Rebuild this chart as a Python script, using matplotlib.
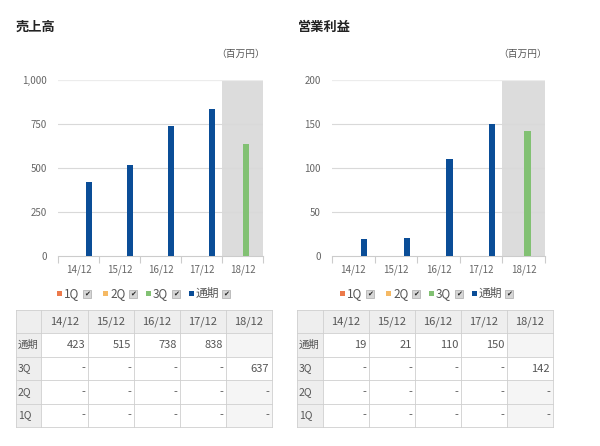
import matplotlib
matplotlib.use("Agg")
import matplotlib.pyplot as plt
from matplotlib.patches import Rectangle

plt.rcParams['font.family'] = ['Noto Sans CJK JP', 'DejaVu Sans']

# data
years = ['14/12', '15/12', '16/12', '17/12', '18/12']
series = ['1Q', '2Q', '3Q', '通期']
colors = ['#ec7a4b', '#f5b964', '#82c173', '#0a4d97']

sales_1q = [None, None, None, None, None]
sales_2q = [None, None, None, None, None]
sales_3q = [None, None, None, None, 637]
sales_full = [423, 515, 738, 838, None]

profit_1q = [None, None, None, None, None]
profit_2q = [None, None, None, None, None]
profit_3q = [None, None, None, None, 142]
profit_full = [19, 21, 110, 150, None]

W, H = 600, 446
fig = plt.figure(figsize=(W / 100, H / 100), dpi=100)

# overlay in pixel coords for titles, legends, tables
ov = fig.add_axes([0, 0, 1, 1])
ov.set_xlim(0, W)
ov.set_ylim(H, 0)
ov.axis('off')


def px_axes(x0, y0, x1, y1):
    return fig.add_axes([x0 / W, 1 - y1 / H, (x1 - x0) / W, (y1 - y0) / H])


def draw_chart(x0, x1, title, tx, lx, q1, q2, q3, full, ymax, ystep, fmt):
    ax = px_axes(x0, 80, x1, 256)
    ax.set_zorder(2)
    ax.patch.set_alpha(0)
    ax.axvspan(3.5, 4.5, color='#dcdcdc', zorder=0, lw=0)
    for v in range(ystep, ymax + 1, ystep):
        ax.axhline(v, color='#d9d9d9' if v < ymax else '#ececec', lw=0.8 if v < ymax else 1.6, zorder=1)
    off = 0.17
    for i, (vals, c) in enumerate(zip([q1, q2, q3, full], colors)):
        xs = [k + (i - 1.5) * off for k, v in enumerate(vals) if v is not None]
        hs = [v for v in vals if v is not None]
        ax.bar(xs, hs, width=0.15, color=c, zorder=3)
    ax.set_xlim(-0.5, 4.5)
    ax.set_ylim(0, ymax)
    ax.set_yticks(range(0, ymax + 1, ystep))
    ax.set_yticklabels([fmt.format(v) for v in range(0, ymax + 1, ystep)])
    ax.set_xticks(range(len(years)))
    ax.set_xticklabels(years)
    ax.set_xticks([k - 0.5 for k in range(len(years) + 1)], minor=True)
    ax.tick_params(axis='y', length=0, pad=8, labelsize=7, labelcolor='#666666')
    ax.tick_params(axis='x', which='major', length=0, pad=6, labelsize=7, labelcolor='#666666')
    ax.tick_params(axis='x', which='minor', length=5, color='#cccccc', width=0.8)
    for s in ['top', 'right', 'left']:
        ax.spines[s].set_visible(False)
    ax.spines['bottom'].set_color('#cccccc')
    ax.spines['bottom'].set_linewidth(0.8)

    ov.text(tx, 27, title, fontsize=9.5, fontweight='bold', color='#222222', va='center', ha='left')
    ov.text(x1 + 2, 54, '（百万円）', fontsize=7, color='#555555', va='center', ha='right')

    # legend
    steps = [46, 43, 43, 0]
    for name, c, st in zip(series, colors, steps):
        ov.add_patch(Rectangle((lx, 291), 5, 5, color=c, lw=0))
        ov.text(lx + 7, 293.5, name, fontsize=8.5, color='#555555', va='center', ha='left')
        cx = lx + (26 if name != '通期' else 33)
        ov.add_patch(Rectangle((cx, 289.5), 8, 8, facecolor='#d6d6d6', edgecolor='#aaaaaa', lw=0.5))
        ov.text(cx + 4, 293.8, '✔', fontsize=5, color='#222222', va='center', ha='center', family='DejaVu Sans')
        lx += st


def draw_table(xs, q1, q2, q3, full):
    rows = ['通期', '3Q', '2Q', '1Q']
    data = [full, q3, q2, q1]
    ys = [310, 333, 357, 380, 404, 427]
    grid = '#cfcfcf'
    # header row
    for c in range(6):
        ov.add_patch(Rectangle((xs[c], ys[0]), xs[c + 1] - xs[c], ys[1] - ys[0], facecolor='#eeeeee', lw=0))
    for r in range(4):
        ov.add_patch(Rectangle((xs[0], ys[r + 1]), xs[1] - xs[0], ys[r + 2] - ys[r + 1], facecolor='#eeeeee', lw=0))
        if r != 1:
            ov.add_patch(Rectangle((xs[5], ys[r + 1]), xs[6] - xs[5], ys[r + 2] - ys[r + 1], facecolor='#f5f5f5', lw=0))
    for y in ys:
        ov.plot([xs[0], xs[-1]], [y, y], color=grid, lw=0.6)
    for x in xs:
        ov.plot([x, x], [ys[0], ys[-1]], color=grid, lw=0.6)
    for c, yr in enumerate(years):
        ov.text((xs[c + 1] + xs[c + 2]) / 2, (ys[0] + ys[1]) / 2, yr, fontsize=8, color='#555555',
                ha='center', va='center')
    for r, (name, vals) in enumerate(zip(rows, data)):
        yc = (ys[r + 1] + ys[r + 2]) / 2
        ov.text(xs[0] + 2, yc, name, fontsize=7.5, color='#555555', ha='left', va='center')
        for c, v in enumerate(vals):
            if v is None:
                s = '' if name == '通期' else '-'
            else:
                s = str(v)
            ov.text(xs[c + 2] - 3, yc, s, fontsize=8, color='#555555', ha='right', va='center')


draw_chart(58, 263, '売上高', 16, 57, sales_1q, sales_2q, sales_3q, sales_full, 1000, 250, '{:,}')
draw_chart(332, 545, '営業利益', 298, 340, profit_1q, profit_2q, profit_3q, profit_full, 200, 50, '{}')

draw_table([16, 41, 88, 134, 180, 226, 272], sales_1q, sales_2q, sales_3q, sales_full)
draw_table([297, 323, 369, 415, 461, 507, 553], profit_1q, profit_2q, profit_3q, profit_full)

fig.savefig('out.png', dpi=100)
